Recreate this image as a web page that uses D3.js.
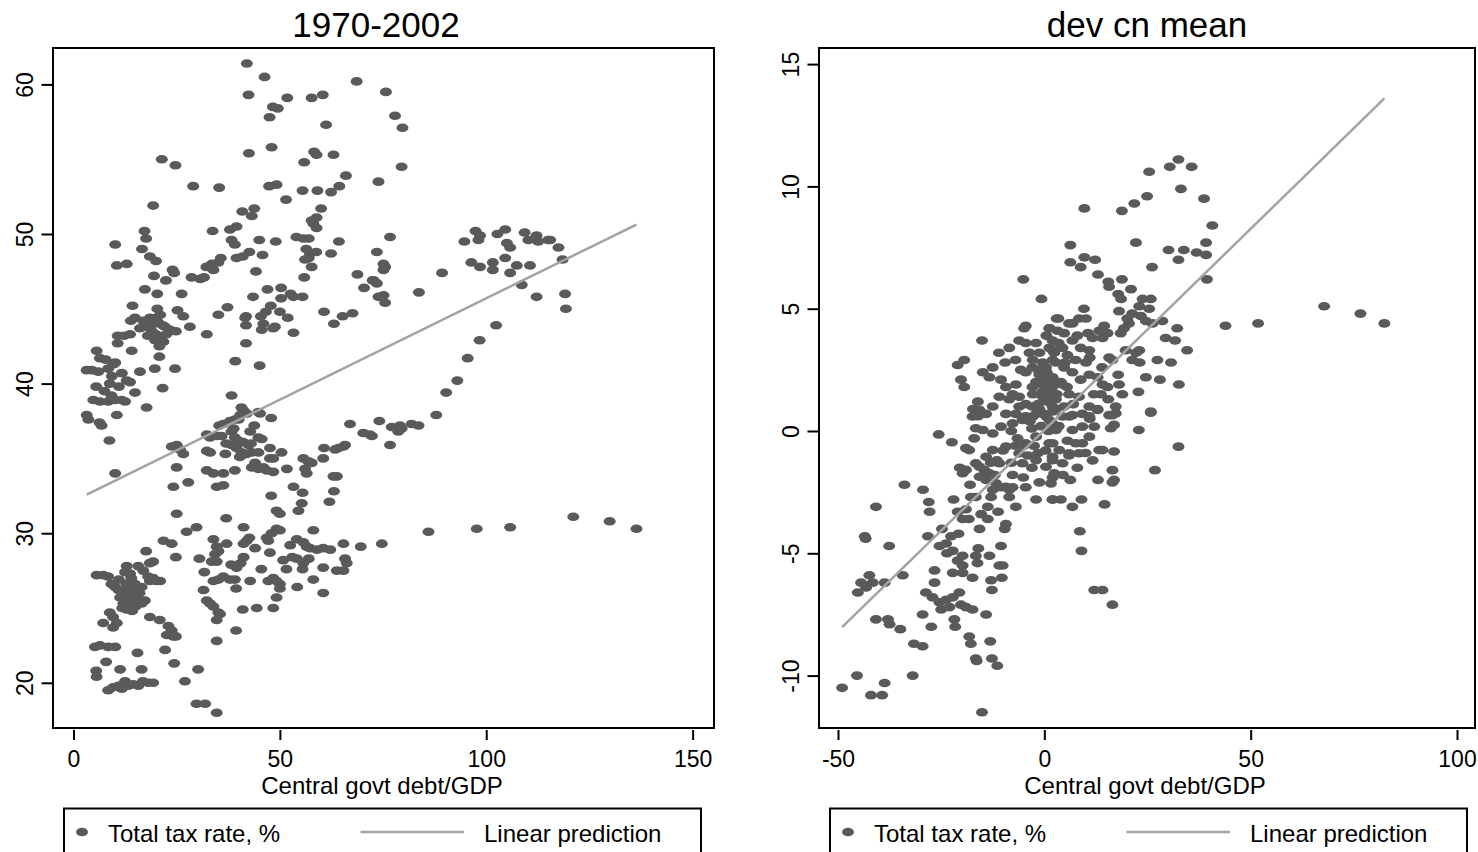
<!DOCTYPE html>
<html>
<head>
<meta charset="utf-8">
<script src="https://cdn.jsdelivr.net/npm/d3@7"></script>
<style>
  html, body { margin: 0; padding: 0; background: #fff; }
  svg { display: block; }
</style>
</head>
<body>
<svg id="chart" width="1478" height="852"></svg>
<script>
// ---- Data -------------------------------------------------------------
// Panel 1: levels, 1970-2002 (debt/GDP, total tax rate %)
const levelPoints = [
  [42.0,61.4],[46.3,60.5],[68.6,60.2],[42.4,59.3],[51.8,59.1],[57.7,59.1],[60.4,59.3],[48.3,58.5],[49.5,58.4],[47.5,57.8],[61.2,57.3],
  [21.4,55.0],[24.7,54.6],[42.5,55.4],[48.0,55.8],[55.9,54.8],[58.3,55.5],[58.9,55.3],[63.0,55.3],[66.0,53.9],
  [29.0,53.2],[35.3,53.1],[47.4,53.2],[49.2,53.3],[55.5,52.9],[59.1,52.9],[62.4,52.8],[64.4,53.2],[51.5,52.3],
  [19.3,51.9],[40.9,51.5],[43.8,51.7],[43.2,51.2],[33.7,50.2],[37.9,50.3],[39.5,50.5],
  [60.0,51.7],[58.9,51.1],[58.1,50.7],[58.9,50.4],[57.7,50.9],
  [17.2,50.2],[17.6,49.7],[10.1,49.3],[16.6,49.0],[18.5,48.5],[20.0,48.2],[10.5,47.9],[12.9,48.0],
  [38.3,49.6],[39.1,49.3],[45.0,49.6],[49.0,49.5],[54.0,49.8],[55.7,49.7],[57.0,49.7],[64.3,49.5],
  [56.4,49.0],[57.3,48.7],[58.8,48.8],[57.0,48.4],[56.1,48.3],[62.4,48.7],[57.7,47.8],[55.9,47.1],
  [68.8,47.3],[70.4,46.4],[72.5,46.9],
  [39.5,48.4],[41.0,48.5],[42.6,48.8],[45.8,48.6],[44.2,47.5],
  [32.2,47.8],[33.5,48.0],[35.1,48.1],[35.7,48.4],[33.9,47.6],[28.6,47.1],[30.7,47.0],[31.6,47.1],[24.0,47.6],[24.4,47.4],[22.4,46.9],[19.5,47.2],
  [17.3,46.3],[20.3,46.0],[26.2,46.0],[14.3,45.2],[20.3,45.0],[25.2,44.9],[26.6,44.5],[28.2,43.8],
  [13.9,44.2],[14.9,44.4],[16.9,44.2],[18.5,44.4],[20.1,44.4],[20.5,44.1],[21.6,43.9],[22.2,43.8],[18.1,43.8],[19.0,43.5],
  [20.0,43.3],[21.0,43.1],[21.8,42.8],[19.8,42.9],[16.1,43.7],[17.0,43.8],[23.4,43.6],[24.8,43.5],
  [19.5,44.0],[21.0,44.6],[18.0,43.2],[22.5,43.3],[20.8,42.5],
  [10.7,43.2],[12.2,43.2],[13.7,43.3],[14.1,42.2],[10.7,42.7],[5.6,42.2],[6.4,41.7],[20.8,41.8],[19.7,41.0],[24.6,41.0],[16.1,40.8],
  [4.4,40.9],[6.0,40.8],[8.4,41.0],[9.7,41.3],[10.1,41.4],[11.7,40.7],[9.3,40.5],[3.2,40.9],
  [7.5,39.5],[5.5,39.8],[7.8,41.6],[11.0,39.8],
  [32.3,43.3],[35.1,44.6],[37.3,45.1],[41.8,42.7],[39.2,41.5],[45.1,41.2],[41.8,44.5],[45.4,44.5],[46.0,44.0],[45.6,43.6],
  [48.8,43.8],[48.4,43.7],[46.6,44.8],[50.0,44.8],[51.9,44.4],[53.3,43.4],[60.7,44.8],[63.1,44.0],[65.2,44.5],[67.6,44.7],
  [47.0,46.3],[50.3,46.4],[50.3,45.7],[52.6,46.0],[53.3,45.8],[55.5,45.8],[41.6,44.4],[41.8,43.9],[43.5,45.8],[47.8,45.2],
  [75.7,59.5],[77.9,57.9],[79.7,57.1],[79.5,54.5],[73.9,53.5],[76.7,49.8],[73.5,48.8],[75.1,48.0],[75.1,47.6],[75.5,47.8],
  [72.7,46.9],[73.5,46.7],[73.9,45.8],[75.1,45.9],[75.5,45.4],[83.7,46.1],[89.3,47.4],
  [94.7,49.5],[97.4,50.2],[98.5,49.9],[98.1,49.6],[102.7,50.0],[104.6,50.3],[105.0,49.4],[105.8,49.1],
  [109.3,50.1],[110.2,49.6],[112.2,49.9],[112.6,49.5],[115.0,49.6],[115.5,49.6],[117.5,49.1],[118.5,48.3],
  [96.4,48.1],[98.5,47.8],[101.6,48.1],[101.6,47.6],[104.6,48.4],[105.8,47.4],[107.4,47.9],[110.6,47.9],
  [108.6,46.6],[112.2,45.8],[119.1,46.0],[119.3,45.0],[102.4,43.9],[98.4,42.9],[95.5,41.7],
  [93.0,40.2],[90.3,39.4],[87.9,37.9],[74.1,37.5],[72.3,36.5],[76.7,35.9],[77.1,37.1],[79.1,37.2],[79.5,37.0],[78.7,36.8],
  [81.9,37.3],[83.6,37.2],[74.7,29.3],[86.0,30.1],[97.7,30.3],[105.8,30.4],[121.1,31.1],[129.9,30.8],[136.4,30.3],
  [8.8,40.0],[12.9,40.2],[13.7,40.1],[14.9,39.4],[21.6,39.7],
  [4.8,38.9],[6.4,38.8],[8.4,38.8],[10.1,38.9],[11.7,38.9],[12.5,38.8],[9.2,39.2],[17.7,38.4],[10.5,37.9],
  [3.2,37.9],[3.6,37.6],[6.3,37.4],[6.8,37.2],[8.7,36.2],[10.1,34.0],
  [38.3,39.2],[40.7,38.4],[41.2,38.2],[40.4,37.9],[42.0,38.0],[44.8,38.1],[45.2,38.0],[47.9,37.7],
  [35.3,37.2],[36.3,37.3],[37.9,37.5],[39.1,37.6],[40.0,37.6],[32.3,36.6],[33.1,36.4],[34.7,36.5],[35.9,36.5],
  [38.3,36.8],[39.1,36.4],[39.9,36.2],[41.1,36.1],[42.4,35.9],[44.8,36.4],[45.6,36.3],
  [38.3,35.9],[39.5,35.7],[40.7,35.4],[41.9,35.3],[43.2,35.4],[44.8,35.4],[40.3,35.1],[41.5,35.3],
  [37.0,36.0],[38.8,37.0],[42.8,36.8],[43.8,37.2],[36.8,35.3],[43.0,36.0],
  [32.3,35.5],[33.1,35.4],[23.8,35.8],[25.0,35.9],[25.8,35.6],[26.6,35.3],[47.6,35.7],[50.4,35.4],
  [25.0,34.4],[27.8,33.4],[24.2,33.1],[32.3,34.2],[33.9,34.0],[36.3,34.0],[34.7,33.1],[36.3,33.2],[39.1,34.2],
  [43.2,34.4],[44.0,34.7],[44.8,34.3],[46.0,34.4],[46.8,34.2],[48.4,34.1],[47.6,35.0],[48.4,35.0],[51.7,34.3],
  [53.3,33.1],[55.5,32.7],[55.3,32.0],[54.5,31.5],[47.9,32.5],[49.2,31.5],[50.0,31.3],
  [55.7,35.0],[56.9,34.8],[57.7,34.7],[56.1,34.3],[56.5,34.0],[60.7,35.7],[63.4,35.6],[64.2,35.7],[65.4,35.8],[65.8,35.9],
  [60.5,35.0],[63.0,33.8],[63.8,33.8],[63.1,32.8],[62.0,32.1],[67.0,37.3],[70.2,36.7],[71.8,36.6],
  [25.0,31.3],[27.4,30.1],[29.8,30.4],[37.0,31.0],[41.2,30.4],[41.2,29.3],[42.6,29.7],[42.0,29.5],
  [46.8,29.7],[48.0,30.0],[49.2,30.3],[50.0,30.2],[47.6,28.7],[47.2,29.5],[58.1,30.2],
  [54.1,29.6],[55.7,29.4],[56.5,29.1],[57.3,29.0],[59.0,28.9],[60.5,29.0],[62.2,28.9],[65.4,29.3],[69.6,29.1],
  [44.0,29.0],[52.5,29.2],[53.0,28.4],[45.5,27.6],[57.0,28.3],
  [17.6,28.8],[21.8,29.5],[23.8,29.3],[24.8,28.4],[30.5,28.3],[33.9,29.6],[34.7,29.1],[35.1,28.8],[34.3,28.6],[37.1,29.3],
  [33.5,28.1],[34.7,28.1],[38.2,27.9],[39.5,27.7],[40.5,28.0],[41.2,28.4],[31.7,27.4],
  [33.9,26.8],[35.1,26.9],[36.3,27.1],[37.9,26.9],[39.1,26.9],[39.4,26.3],[42.8,26.8],
  [50.8,28.2],[51.6,27.6],[54.1,28.3],[55.7,28.0],[55.5,27.6],[58.1,26.9],[60.5,27.7],[63.8,27.5],[65.4,27.5],[66.2,28.0],[65.8,28.3],
  [47.2,26.8],[48.4,27.0],[49.2,26.8],[50.0,26.6],[50.0,26.3],[49.2,25.7],[54.2,26.4],[60.5,26.0],
  [31.5,26.2],[32.3,25.5],[33.1,25.3],[33.9,25.1],[35.1,24.7],[34.7,24.2],[35.5,24.6],[41.0,24.9],[44.4,25.0],[48.4,25.0],
  [39.4,23.5],[34.7,22.8],
  [7.2,27.2],[5.6,27.2],[8.4,27.1],[12.9,27.8],[12.5,27.4],[13.7,27.3],[15.7,27.8],[16.9,27.5],[18.5,28.0],[19.3,28.1],[21.0,26.8],
  [18.5,26.8],[20.1,26.8],[19.3,27.0],[18.1,27.1],
  [9.2,26.6],[10.1,26.4],[10.9,26.2],[12.1,26.1],[13.3,26.0],[14.5,26.0],[15.3,26.2],[16.5,26.4],[17.3,25.5],[14.5,25.5],
  [13.3,25.3],[12.1,25.3],[12.9,24.9],[11.3,25.7],[13.7,26.3],[14.9,26.6],[15.7,25.6],[16.5,25.3],
  [11.0,26.9],[12.8,26.6],[14.0,27.0],[15.0,25.1],[13.0,25.8],[11.8,25.0],[16.0,26.0],[14.2,24.8],
  [8.8,24.7],[9.6,24.4],[7.2,24.0],[9.6,23.7],[10.5,24.0],
  [18.5,24.4],[20.9,24.2],[23.0,23.8],[23.8,23.5],[24.8,23.1],[22.6,23.2],[24.2,23.1],
  [5.2,22.4],[6.4,22.5],[8.4,22.4],[10.1,22.4],[15.5,22.0],[22.2,22.2],[7.9,21.4],[24.4,21.3],
  [5.5,20.8],[5.6,20.4],[11.3,20.9],[16.5,20.9],[30.2,20.9],[27.0,20.1],
  [8.4,19.5],[9.6,19.7],[10.9,19.8],[11.7,19.6],[12.5,20.1],[13.3,19.8],[14.5,19.9],[15.7,19.8],[16.8,20.1],[18.1,20.0],[19.3,20.0],
  [29.8,18.6],[31.9,18.6],[34.7,18.0]
];

// Panel 2: deviations from country means
const deviationPoints = [
  [-5.1,6.2],[-0.7,5.4],[-15.1,3.7],[-8.5,3.4],[-4.5,4.3],[-4.9,4.2],[1.3,4.2],[-6.1,3.7],[-4.5,3.6],[3.0,4.6],
  [-19.4,2.9],[-21.0,2.7],[-20.2,2.1],[-19.4,1.8],
  [-14.9,2.4],[-12.5,2.6],[-13.3,2.2],[-10.5,2.1],[-9.3,1.8],[-6.9,1.9],[-5.7,2.5],[-2.9,2.6],[-0.4,2.8],[2.0,2.9],[1.2,3.4],
  [-16.1,1.2],[-17.3,0.9],[-16.1,0.6],[-8.5,1.3],[-6.1,1.4],[-4.5,1.1],[-2.9,1.0],[-1.2,0.9],[1.2,1.3],[2.8,0.9],
  [-2.0,2.0],[-0.4,1.9],[0.4,2.1],[-1.2,2.3],[-2.9,1.8],[0.4,1.7],[-9.3,0.7],[-6.9,0.7],[-4.5,0.6],
  [-3.6,3.2],[-1.2,3.2],[2.0,3.3],[-2.8,2.9],[0.4,2.6],[-4.5,2.4],[-1.2,2.4],[2.0,1.8],[-2.8,1.5],[-0.4,1.4],
  [2.0,1.0],[-2.0,0.7],[0.4,0.6],[-6.1,1.0],[-7.7,1.5],[-10.9,1.4],[-12.5,1.0],[-14.1,0.7],
  [-1.0,2.0],[0.0,2.2],[-0.5,1.6],[0.8,1.2],[-1.5,1.1],[-3.5,0.4],[-0.8,0.2],[1.0,0.0],[-2.5,-0.6],[-1.5,-0.9],
  [0.3,-0.8],[-4.0,-1.0],[-3.0,-1.5],[-6.5,-0.3],[-8.0,0.0],[-10.0,-0.8],[-11.5,-1.2],[-13.0,-1.3],[-14.5,-1.6],
  [-12.0,-1.8],[-8.0,-1.3],[3.5,0.2],[3.0,1.5],[4.0,2.0],[5.0,2.8],[3.5,3.6],[0.5,3.9],[-2.0,3.6],[-7.0,2.9],
  [-9.5,2.8],[-11.0,3.2],[-3.0,0.1],[-5.0,-0.6],[-7.0,-0.6],[5.5,1.8],[7.0,1.1],[4.5,-1.8],[6.0,-1.0],[8.0,-1.5],
  [10.0,-0.9],[11.0,0.5],[12.0,1.5],[14.0,2.6],[11.0,3.0],[8.0,3.9],[13.0,-2.0],[-17.0,-0.3],[-19.0,-0.7],
  [-20.5,-1.5],[-18.0,-2.2],[0.6,2.4],[1.5,2.0],[-0.2,2.6],[1.0,1.6],
  [32.5,11.1],[30.4,10.8],[35.7,10.8],[25.4,10.6],[33.1,9.9],[38.7,9.5],[21.8,9.3],[24.9,9.6],[18.8,9.0],[9.7,9.1],
  [40.7,8.4],[22.2,7.7],[6.3,7.6],[30.1,7.4],[33.8,7.4],[32.5,7.0],[36.9,7.3],[39.2,7.2],[39.2,7.7],[26.1,6.7],[39.4,6.2],
  [6.3,6.9],[8.8,6.7],[9.7,7.1],[12.3,7.0],[13.0,6.4],[15.5,6.1],[18.8,6.2],[15.7,5.9],[17.9,5.6],[21.0,5.8],[18.6,5.4],
  [43.9,4.3],[51.8,4.4],[67.8,5.1],[76.6,4.8],[82.4,4.4],
  [32.2,4.2],[29.4,3.8],[31.7,3.7],[34.6,3.3],[30.7,2.8],[27.4,2.9],[24.6,2.2],[28.0,2.1],[32.6,1.9],[25.8,0.8],[22.8,1.6],
  [1.2,4.2],[3.4,4.6],[8.4,4.6],[10.1,4.6],[9.6,5.0],[6.0,4.4],[6.8,4.4],[10.6,4.0],[11.7,3.8],[13.3,4.1],[14.5,4.3],
  [15.3,4.0],[14.1,3.8],[18.5,4.0],[19.3,4.2],[20.5,4.4],[20.1,4.6],[21.3,4.8],[18.1,4.9],[23.0,5.1],[23.8,5.4],[25.8,5.4],
  [25.4,5.0],[23.4,4.7],[24.6,4.5],[26.2,4.4],[28.6,4.5],[23.0,3.3],[15.7,3.0],[16.5,2.9],[19.7,3.3],[21.3,2.9],[22.2,3.2],
  [23.1,2.8],[17.9,2.3],[18.1,1.9],[12.9,2.2],[14.1,1.9],[15.3,1.8],[13.7,1.5],[15.5,1.3],[17.3,1.0],[16.5,0.65],[18.9,1.5],
  [10.9,1.0],[12.9,0.9],[9.2,0.7],[10.9,0.6],[6.8,0.65],
  [3.2,4.1],[4.8,4.0],[2.0,3.7],[6.8,3.7],[4.4,3.4],[8.8,3.4],[10.9,3.3],[2.4,3.2],[5.6,3.1],[7.6,2.9],[2.8,2.8],[10.1,2.8],
  [4.8,2.6],[6.8,2.4],[2.0,2.2],[8.8,2.1],[4.4,1.9],[10.9,2.3],[6.0,1.5],[2.8,1.3],[8.4,1.4],[4.8,1.0],[2.0,0.8],
  [-17.4,0.59],[-15.7,0.86],[-16.6,0.11],[-14.9,0.04],[-12.5,-0.1],[-10.5,0.18],[-7.7,0.31],[-5.3,0.45],[-2.8,0.59],
  [-0.4,0.72],[2.0,0.31],[-2.0,-0.23],[-4.5,-0.5],[-6.1,-0.91],[-9.3,-0.64],[-12.5,-0.78],[-14.1,-1.05],[-16.6,-1.32],
  [-15.7,-1.46],[-13.3,-1.73],[-10.9,-1.32],[-18.2,-0.78],[-19.0,-1.59],[-19.8,-1.73],[-15.7,-1.87],[-14.1,-2.0],
  [-11.7,-2.14],[-9.3,-2.28],[-5.3,-1.32],[-2.0,-1.19],[0.4,-1.46],[2.0,-1.05],[1.2,-0.5],
  [-25.6,-0.14],[-22.4,-0.46],[-33.9,-2.2],[-29.4,-2.4],[-28.0,-2.9],[-27.8,-3.3],[-22.0,-2.8],[-40.8,-3.1],
  [-19.0,-3.2],[-21.0,-3.3],[-19.8,-3.6],[-18.3,-3.6],[-15.3,-3.4],[-13.7,-3.1],[-12.9,-2.7],[-11.2,-3.3],[-9.3,-3.8],
  [-9.6,-4.0],[-6.9,-3.1],[-8.5,-2.7],[-8.5,-2.4],[-7.7,-2.3],[-5.1,-1.9],[-2.0,-2.8],[2.0,-2.8],[-1.2,-2.1],[2.0,-1.9],
  [-16.6,-2.7],[-12.5,-2.4],[-10.5,-2.3],[-7.7,-1.8],[-4.5,-2.3],[-17.8,-2.7],[-13.7,-3.6],[-15.7,-4.0],
  [-43.5,-4.3],[-43.3,-4.4],[-37.6,-4.7],[-28.2,-4.3],[-24.8,-4.0],[-22.6,-4.3],[-23.8,-4.6],[-25.4,-4.7],[-20.8,-4.2],
  [-23.6,-5.0],[-22.2,-4.9],[-19.8,-5.1],[-21.0,-5.3],[-19.8,-5.5],[-16.0,-4.8],[-16.6,-5.1],[-10.5,-4.7],[-13.3,-5.1],
  [-10.9,-5.5],[-10.1,-5.5],[-10.3,-6.0],[-12.9,-6.1],[-12.7,-6.5],[-16.2,-5.4],[-17.4,-6.0],[-19.8,-5.8],[-22.2,-5.8],
  [-26.6,-5.7],[-26.6,-6.2],[-34.3,-5.9],[-44.4,-6.2],[-42.4,-5.9],[-43.2,-6.4],[-45.2,-6.6],[-41.6,-6.2],[-38.7,-6.2],
  [-28.7,-6.6],[-27.1,-6.8],[-25.4,-7.0],[-23.8,-6.9],[-22.2,-6.8],[-20.6,-6.6],[-25.0,-7.3],[-23.0,-7.2],[-20.2,-7.1],
  [-19.0,-7.2],[-17.4,-7.3],[-14.1,-7.5],[-29.5,-7.5],[-27.4,-8.0],[-40.8,-7.7],[-37.9,-7.7],[-37.5,-7.9],[-34.9,-8.1],
  [-31.6,-8.7],[-29.5,-8.8],[-21.8,-7.7],[-21.6,-8.0],[-18.2,-8.4],[-17.8,-8.7],[-13.1,-8.6],[-16.6,-9.3],[-16.4,-9.4],
  [-12.7,-9.3],[-11.4,-9.6],[-45.4,-10.0],[-49.0,-10.5],[-42.0,-10.8],[-39.3,-10.8],[-38.7,-10.3],[-31.9,-10.0],[-15.1,-11.5],
  [25.8,0.75],[22.9,0.04],[32.5,-0.64],[26.8,-1.6],[16.5,-1.6],[16.9,-2.0],[16.5,-2.1],[14.6,-3.0],[6.3,-2.0],
  [11.7,-1.2],[13.3,-0.78],[16.9,-0.84],[14.1,-0.78],[8.4,-0.91],[9.2,-0.5],[10.9,-0.23],[12.1,0.18],[16.1,0.11],
  [16.9,0.25],[15.7,0.65],[17.3,0.72],[12.9,0.86],[5.6,-0.4],[2.0,-2.8],[4.0,-2.8],[6.8,-3.1],[9.0,-2.8],
  [8.6,-4.1],[9.0,-4.9],[12.1,-6.5],[14.1,-6.5],[16.5,-7.1],
  [1.2,0.45],[2.8,0.04],[2.0,-0.5],[3.6,-0.78],[2.0,-1.19],[4.4,-1.32],[2.4,-1.73],[1.6,-2.14],[6.0,0.59],[6.8,0.04],
  [7.6,-0.5],[4.4,0.59],[9.2,0.18],[6.0,-0.91]
];

// Fitted lines (linear prediction)
const fitLevel = { intercept: 32.15, slope: 0.1355 };
const fitDeviation = { intercept: 0.04, slope: 0.1645 };

// Axis ticks and labels
const levelXTicks = [0, 50, 100, 150];
const levelYTicks = [20, 30, 40, 50, 60];
const devXTicks = [-50, 0, 50, 100];
const devYTicks = [-10, -5, 0, 5, 10, 15];

const panelTitles = ["1970-2002", "dev cn mean"];
const xAxisTitle = "Central govt debt/GDP";
const legendLabels = ["Total tax rate, %", "Linear prediction"];

// ---- Drawing ----------------------------------------------------------
const DOT = "#5a5a5a";
const FIT = "#a3a3a3";
const FONT = "'Liberation Sans', Arial, Helvetica, sans-serif";
const plainNumber = d => String(d);   // keeps an ASCII hyphen for negatives

const svg = d3.select("#chart").style("font-family", FONT);
svg.append("rect").attr("width", 1478).attr("height", 852).attr("fill", "#fff");

const panels = [
  {
    title: panelTitles[0], titleX: 376, axisTitleX: 382,
    frame: { x0: 53, x1: 714, y0: 48, y1: 728 },
    x: d3.scaleLinear().domain([0, 150]).range([73.5, 692.6]),
    y: d3.scaleLinear().domain([20, 60]).range([682.8, 84.4]),
    xTicks: levelXTicks, yTicks: levelYTicks,
    points: levelPoints, fit: fitLevel,
    legendX: 64
  },
  {
    title: panelTitles[1], titleX: 1147, axisTitleX: 1145,
    frame: { x0: 819, x1: 1475, y0: 48, y1: 728 },
    x: d3.scaleLinear().domain([-50, 100]).range([838, 1457]),
    y: d3.scaleLinear().domain([-10, 15]).range([675.6, 64.1]),
    xTicks: devXTicks, yTicks: devYTicks,
    points: deviationPoints, fit: fitDeviation,
    legendX: 830
  }
];

panels.forEach(p => {
  const g = svg.append("g");
  const f = p.frame;

  // title
  g.append("text")
    .attr("x", p.titleX).attr("y", 37)
    .attr("text-anchor", "middle")
    .attr("font-size", 35)
    .attr("fill", "#000")
    .text(p.title);

  // scatter
  g.append("g").selectAll("ellipse")
    .data(p.points)
    .join("ellipse")
    .attr("cx", d => p.x(d[0]))
    .attr("cy", d => p.y(d[1]))
    .attr("rx", 6).attr("ry", 4.3)
    .attr("fill", DOT);

  // linear prediction over the observed range
  const ext = d3.extent(p.points, d => d[0]);
  const fitData = ext.map(v => [v, p.fit.intercept + p.fit.slope * v]);
  g.append("path")
    .datum(fitData)
    .attr("d", d3.line().x(d => p.x(d[0])).y(d => p.y(d[1])))
    .attr("fill", "none")
    .attr("stroke", FIT)
    .attr("stroke-width", 2.5);

  // plot frame
  g.append("rect")
    .attr("x", f.x0).attr("y", f.y0)
    .attr("width", f.x1 - f.x0).attr("height", f.y1 - f.y0)
    .attr("fill", "none").attr("stroke", "#000").attr("stroke-width", 2);

  // x axis
  const xa = g.append("g")
    .attr("transform", `translate(0,${f.y1 + 2})`)
    .call(d3.axisBottom(p.x).tickValues(p.xTicks).tickSize(10).tickPadding(10.5).tickFormat(plainNumber));
  xa.select(".domain").remove();
  xa.selectAll("line").attr("stroke", "#000").attr("stroke-width", 2);
  xa.selectAll("text").attr("font-size", 23).attr("fill", "#000").attr("font-family", FONT);

  // y axis, labels rotated
  const ya = g.append("g")
    .attr("transform", `translate(${f.x0},0)`)
    .call(d3.axisLeft(p.y).tickValues(p.yTicks).tickSize(11.5).tickFormat(plainNumber));
  ya.select(".domain").remove();
  ya.selectAll("line").attr("stroke", "#000").attr("stroke-width", 2);
  ya.selectAll("text")
    .attr("x", null).attr("dy", null)
    .attr("text-anchor", "middle")
    .attr("transform", "translate(-20,0) rotate(-90)")
    .attr("font-size", 23).attr("fill", "#000").attr("font-family", FONT);

  // x axis title
  g.append("text")
    .attr("x", p.axisTitleX).attr("y", 794)
    .attr("text-anchor", "middle")
    .attr("font-size", 24).attr("fill", "#000")
    .text(xAxisTitle);

  // legend
  const lx = p.legendX;
  const lg = g.append("g");
  lg.append("rect")
    .attr("x", lx).attr("y", 808.5).attr("width", 637).attr("height", 70)
    .attr("fill", "#fff").attr("stroke", "#000").attr("stroke-width", 2);
  lg.append("ellipse")
    .attr("cx", lx + 18).attr("cy", 832).attr("rx", 6).attr("ry", 4.3).attr("fill", DOT);
  lg.append("text")
    .attr("x", lx + 44).attr("y", 841.5)
    .attr("font-size", 24).attr("fill", "#000")
    .text(legendLabels[0]);
  lg.append("line")
    .attr("x1", lx + 296.5).attr("x2", lx + 400).attr("y1", 832).attr("y2", 832)
    .attr("stroke", FIT).attr("stroke-width", 2.5);
  lg.append("text")
    .attr("x", lx + 420).attr("y", 841.5)
    .attr("font-size", 24).attr("fill", "#000")
    .text(legendLabels[1]);
});
</script>
</body>
</html>
